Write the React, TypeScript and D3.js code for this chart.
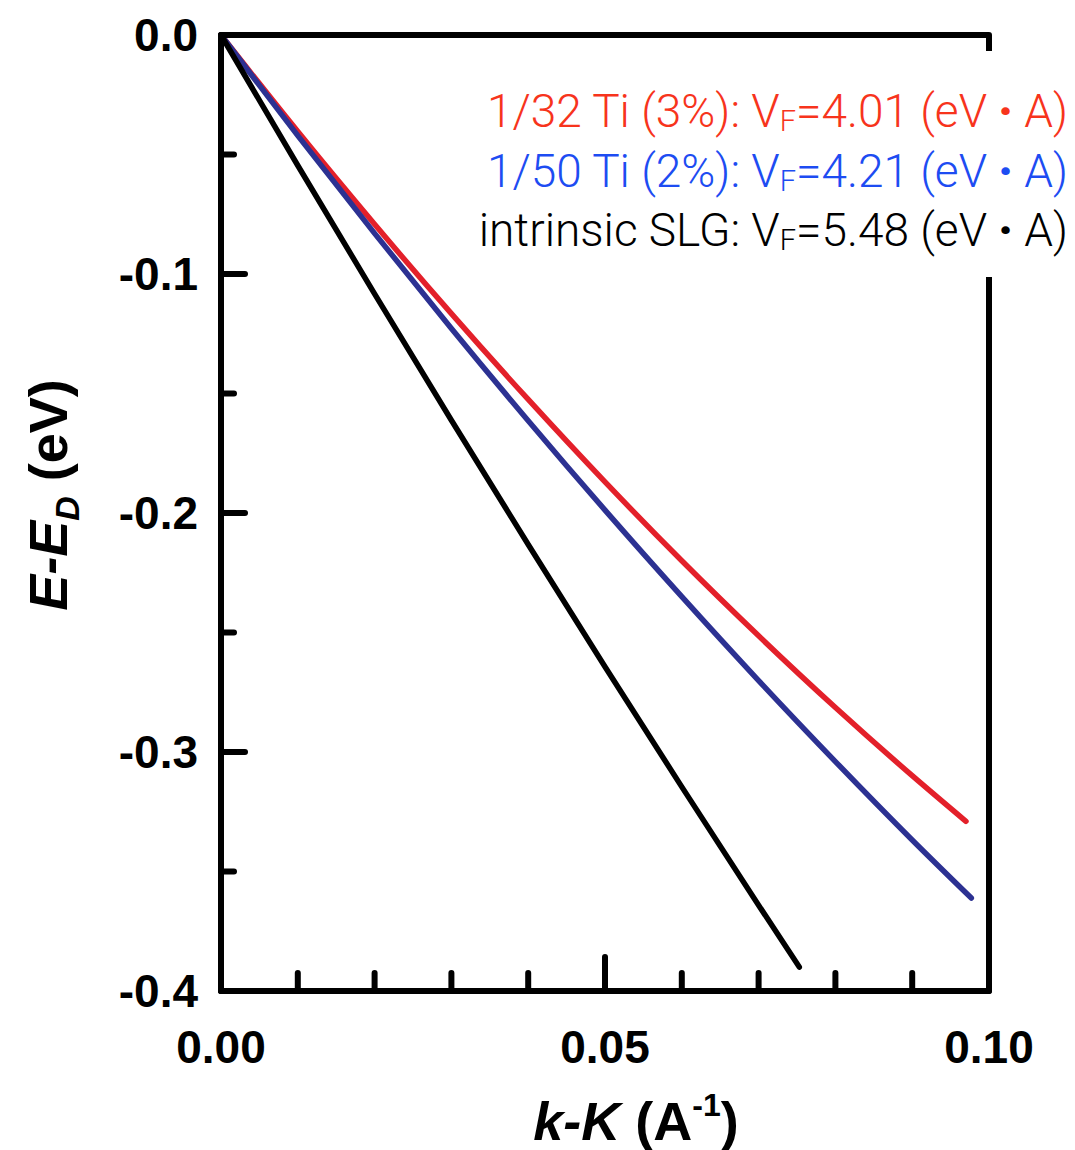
import React from "react";
import * as d3 from "d3";

// ---- data ----
const kRed = [0, 0.01, 0.02, 0.03, 0.04, 0.05, 0.06, 0.07, 0.08, 0.09, 0.097];
const eRed = [0, -0.0404, -0.0792, -0.1166, -0.1525, -0.187, -0.22, -0.2514, -0.2814, -0.3099, -0.329];
const kBlue = [0, 0.01, 0.02, 0.03, 0.04, 0.05, 0.06, 0.07, 0.08, 0.09, 0.0977];
const eBlue = [0, -0.0421, -0.083, -0.1228, -0.1614, -0.1988, -0.235, -0.2701, -0.304, -0.3368, -0.3611];
const kBlack = [0, 0.01, 0.02, 0.03, 0.04, 0.05, 0.06, 0.07, 0.0753];
const eBlack = [0, -0.0546, -0.1083, -0.1612, -0.2132, -0.2643, -0.3146, -0.3641, -0.39];

const xMajorTicks = [0, 0.05, 0.1];
const xTickLabels = ["0.00", "0.05", "0.10"];
const xMinorTicks = [0.01, 0.02, 0.03, 0.04, 0.06, 0.07, 0.08, 0.09];
const yMajorTicks = [0, -0.1, -0.2, -0.3, -0.4];
const yTickLabels = ["0.0", "-0.1", "-0.2", "-0.3", "-0.4"];
const yMinorTicks = [-0.05, -0.15, -0.25, -0.35];

const legendLabels = ["1/32 Ti (3%)", "1/50 Ti (2%)", "intrinsic SLG"];
const legendVF = ["4.01", "4.21", "5.48"];
const legendColors = ["#f7341c", "#1d4cf2", "#000000"];

const seriesColors = ["#e3202a", "#2c3192", "#000000"];

export default function App() {
  const left = 221, right = 989, top = 35, bottom = 991;
  const x = d3.scaleLinear().domain([0, 0.1]).range([left, right]);
  const y = d3.scaleLinear().domain([0, -0.4]).range([top, bottom]);

  const line = d3
    .line<[number, number]>()
    .x((d) => x(d[0]))
    .y((d) => y(d[1]))
    .curve(d3.curveMonotoneX);

  const series = [
    kRed.map((k, i) => [k, eRed[i]] as [number, number]),
    kBlue.map((k, i) => [k, eBlue[i]] as [number, number]),
    kBlack.map((k, i) => [k, eBlack[i]] as [number, number]),
  ];

  const tickFont = "'Liberation Sans', Arial, sans-serif";
  const legendFont = "Roboto, 'Liberation Sans', sans-serif";

  return (
    <svg
      width={1075}
      height={1150}
      style={{ position: "absolute", left: 0, top: 0, display: "block", background: "#fff" }}
    >
      {/* series lines */}
      {series.map((s, i) => (
        <path
          key={i}
          d={line(s) || ""}
          fill="none"
          stroke={seriesColors[i]}
          strokeWidth={5.5}
          strokeLinecap="round"
          strokeLinejoin="round"
        />
      ))}

      {/* frame */}
      <rect
        x={left}
        y={top}
        width={right - left}
        height={bottom - top}
        fill="none"
        stroke="#000"
        strokeWidth={6}
        strokeLinejoin="round"
      />

      {/* legend background (hides part of the right spine) */}
      <rect x={475} y={51} width={600} height={226} fill="#fff" />

      {/* y ticks */}
      {yMajorTicks.map((t) => (
        <line key={"ym" + t} x1={left} x2={left + 24} y1={y(t)} y2={y(t)} stroke="#000" strokeWidth={6} strokeLinecap="round" />
      ))}
      {yMinorTicks.map((t) => (
        <line key={"yn" + t} x1={left} x2={left + 13} y1={y(t)} y2={y(t)} stroke="#000" strokeWidth={6} strokeLinecap="round" />
      ))}
      {/* x ticks */}
      {xMajorTicks.map((t) => (
        <line key={"xm" + t} x1={x(t)} x2={x(t)} y1={bottom} y2={bottom - 34} stroke="#000" strokeWidth={6} strokeLinecap="round" />
      ))}
      {xMinorTicks.map((t) => (
        <line key={"xn" + t} x1={x(t)} x2={x(t)} y1={bottom} y2={bottom - 18} stroke="#000" strokeWidth={6} strokeLinecap="round" />
      ))}

      {/* tick labels */}
      {yMajorTicks.map((t, i) => (
        <text key={"yl" + t} x={198} y={y(t) + 16} textAnchor="end" fontFamily={tickFont} fontWeight="bold" fontSize={46}>
          {yTickLabels[i]}
        </text>
      ))}
      {xMajorTicks.map((t, i) => (
        <text key={"xl" + t} x={x(t)} y={1063} textAnchor="middle" fontFamily={tickFont} fontWeight="bold" fontSize={46}>
          {xTickLabels[i]}
        </text>
      ))}

      {/* axis titles */}
      <text x={636} y={1140} textAnchor="middle" fontFamily={tickFont} fontWeight="bold" fontSize={54}>
        <tspan fontStyle="italic">k-K</tspan>
        <tspan> (A</tspan>
        <tspan fontSize={32} dy={-24}>-1</tspan>
        <tspan dy={24}>)</tspan>
      </text>
      <text
        transform="translate(67,495) rotate(-90)"
        textAnchor="middle"
        fontFamily={tickFont}
        fontWeight="bold"
        fontSize={54}
      >
        <tspan fontStyle="italic">E-E</tspan>
        <tspan fontStyle="italic" fontSize={34} dy={12}>D</tspan>
        <tspan dy={-12}> (eV)</tspan>
      </text>

      {/* legend */}
      {legendLabels.map((lab, i) => (
        <text
          key={lab}
          x={1068}
          y={127 + i * 59.5}
          textAnchor="end"
          fontFamily={legendFont}
          fontWeight={300}
          fontSize={46}
          fill={legendColors[i]}
        >
          <tspan>{lab}: V</tspan>
          <tspan fontSize={29} dy={4}>F</tspan>
          <tspan dy={-4}>{"=" + legendVF[i] + " (eV "}</tspan>
          <tspan fontWeight={900}>{"\u00b7"}</tspan>
          <tspan>{" A)"}</tspan>
        </text>
      ))}
    </svg>
  );
}
